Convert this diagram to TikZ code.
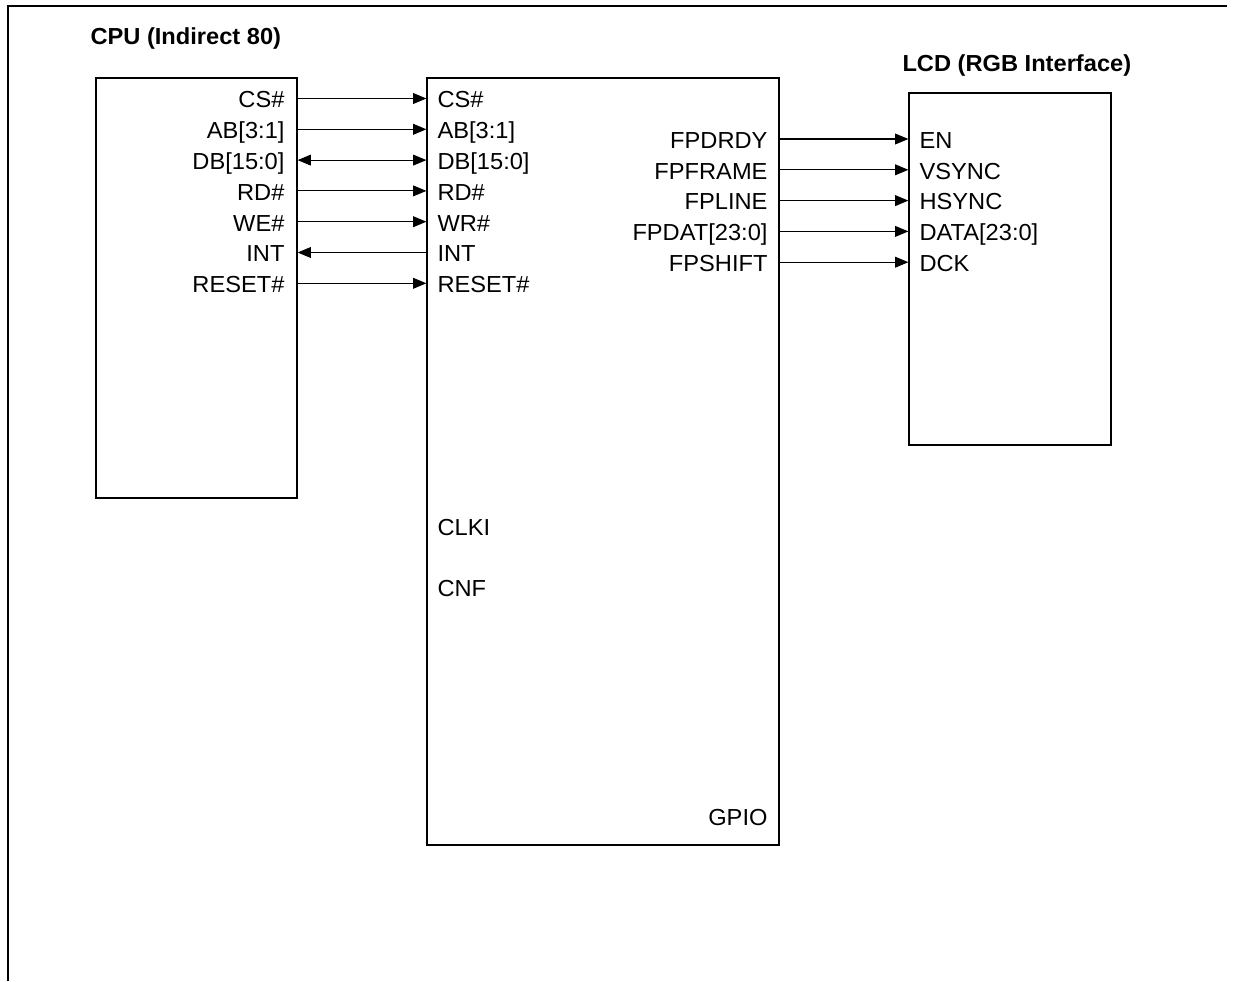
\documentclass[tikz,border=0pt]{standalone}
\usepackage{fontspec}
\setmainfont[FakeStretch=1.02]{Liberation Sans}
\usetikzlibrary{positioning,arrows.meta}
\tikzset{
  blk/.style={draw,line width=0.75pt,inner sep=0pt},
  pin/.style={inner sep=0pt,text height=10.6pt,text depth=0pt},
  tipR/.style={-{Triangle[length=7.6pt,width=6.2pt]}},
  tipL/.style={{Triangle[length=7.6pt,width=6.2pt]}-},
  tipLR/.style={{Triangle[length=7.6pt,width=6.2pt]}-{Triangle[length=7.6pt,width=6.2pt]}},
  title/.style={font=\fontsize{13.2}{15}\selectfont\bfseries,inner sep=0pt,anchor=base west}
}

\begin{document}
\begin{tikzpicture}[x=0.02cm,y=-0.02cm,line width=0.6pt,font=\fontsize{13.2}{15}\selectfont]
  \useasboundingbox (0,0) rectangle (1234,981);
  % frame
  \draw (8,981) -- (8,6) -- (1227,6);
  % blocks
  \node[blk,minimum width=4.02cm,minimum height=8.4cm] (cpu) at (196.5,288) {};
  \node[blk,minimum width=7.04cm,minimum height=15.34cm] (ctrl) at (603,461.5) {};
  \node[blk,minimum width=4.04cm,minimum height=7.04cm] (lcd) at (1010,269) {};
  \node[title] (cpuname) at (90,44) {CPU (Indirect 80)};
  \node[title] (lcdname) at (902,71) {LCD (RGB Interface)};
  % host bus
  \foreach \i/\a/\b/\d in {0/CS\#/CS\#/tipR,1/{AB[3:1]}/{AB[3:1]}/tipR,2/{DB[15:0]}/{DB[15:0]}/tipLR,
      3/RD\#/RD\#/tipR,4/WE\#/WR\#/tipR,5/INT/INT/tipL,6/RESET\#/RESET\#/tipR}{
    \node[pin,anchor=east] (cp\i) at (285,98.5+30.8*\i) {\a};
    \node[pin,anchor=west] (gp\i) at (437,98.5+30.8*\i) {\b};
    \draw[\d] (cpu.east |- cp\i) -- (ctrl.west |- gp\i);
  }
  % panel side
  \foreach \i/\a/\b in {0/FPDRDY/EN,1/FPFRAME/VSYNC,2/FPLINE/HSYNC,3/{FPDAT[23:0]}/{DATA[23:0]},4/FPSHIFT/DCK}{
    \node[pin,anchor=east] (fp\i) at (768,139+30.8*\i) {\a};
    \node[pin,anchor=west] (lp\i) at (919,139+30.8*\i) {\b};
    \draw[tipR] (ctrl.east |- fp\i) -- (lcd.west |- lp\i);
  }
  \node[pin,anchor=west] (clki) at (437,526) {CLKI};
  \node[pin,anchor=west] (cnf) at (437,587) {CNF};
  \node[pin,anchor=east] (gpio) at (768,816) {GPIO};
\end{tikzpicture}
\end{document}
